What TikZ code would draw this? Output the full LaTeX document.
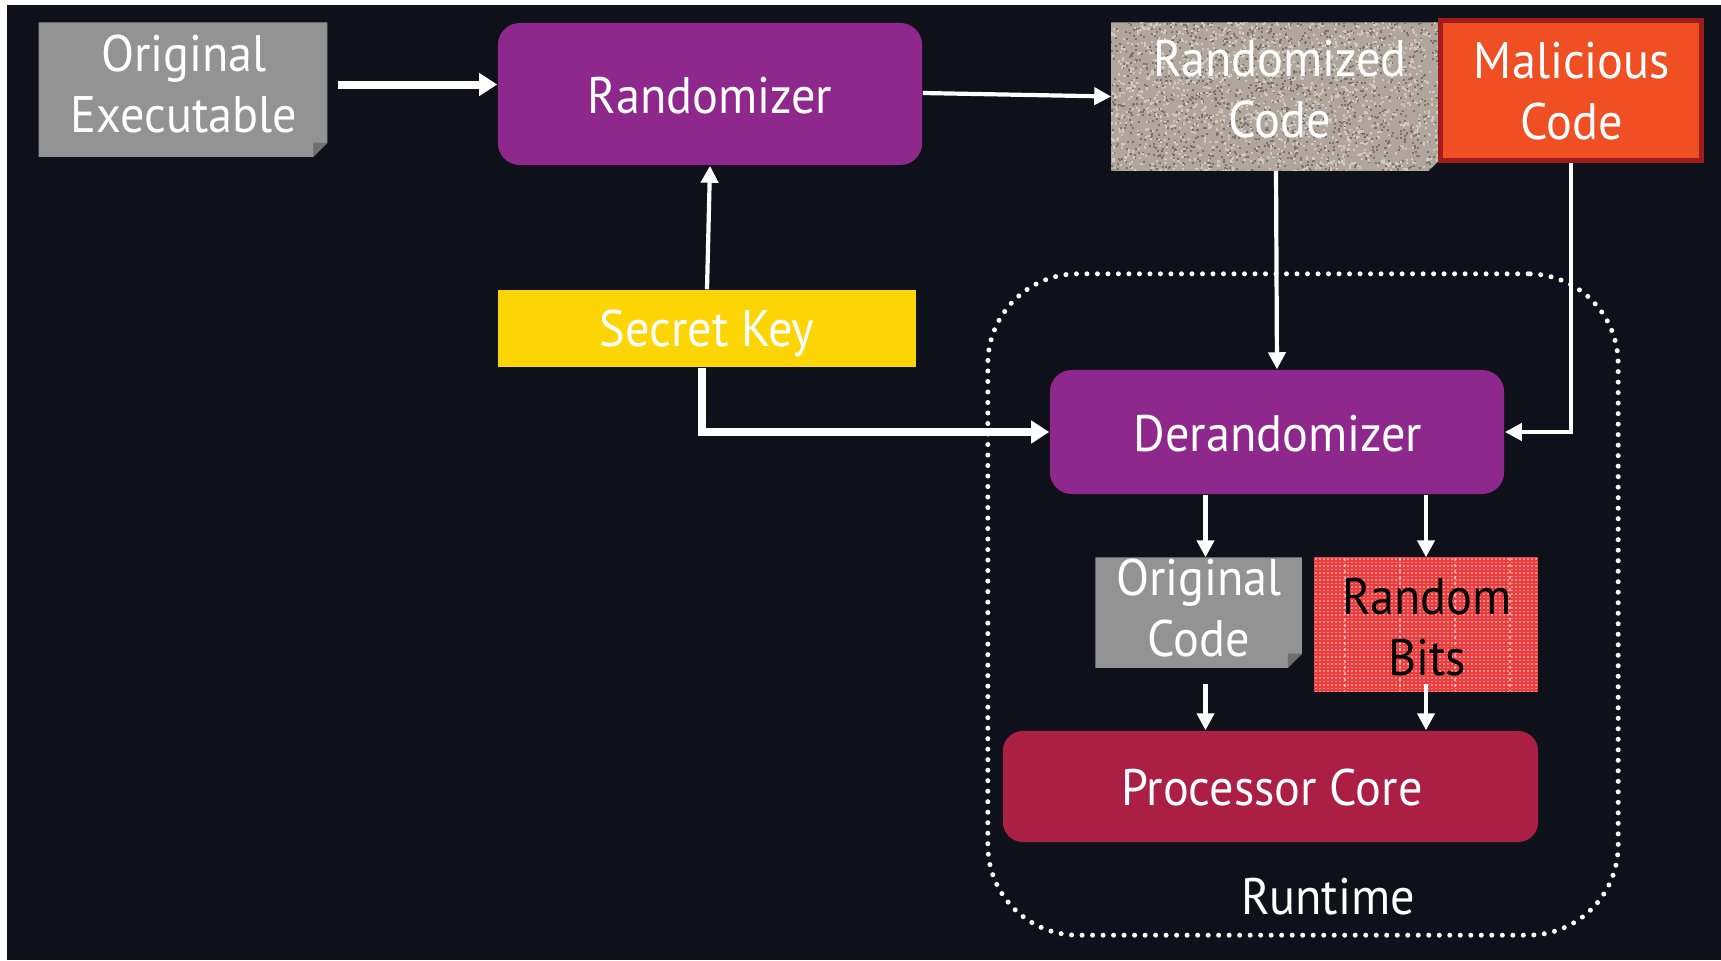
\documentclass[tikz,border=0pt]{standalone}
\usepackage{fontspec}
\setmainfont{PT Sans}[FakeStretch=0.94]
\usetikzlibrary{arrows.meta,backgrounds}

\definecolor{bg}{HTML}{0E111A}
\definecolor{purp}{HTML}{8F288C}
\definecolor{crimson}{HTML}{AB1F45}
\definecolor{keyyellow}{HTML}{FDD504}
\definecolor{malfill}{HTML}{F04E23}
\definecolor{malborder}{HTML}{A01D1D}
\definecolor{docgray}{HTML}{939393}
\definecolor{docfold}{HTML}{6E6E6E}
\definecolor{rcbase}{HTML}{B0A69B}
\definecolor{rcdark}{HTML}{7E7368}
\definecolor{rclight}{HTML}{D2CAC0}
\definecolor{rbred}{HTML}{EF3B3B}

\tikzset{
  lbl/.style={text=white, font=\fontsize{14.6}{17.2}\selectfont, align=center, inner sep=0pt},
  box/.style={inner sep=0pt},
  proc/.style={box, fill=purp, rounded corners=0.22cm},
  thickarr/.style={draw=white, line width=0.08cm, -{Triangle[length=0.18cm,width=0.22cm]}},
  thinarr/.style={draw=white, line width=0.042cm, -{Triangle[length=0.17cm,width=0.17cm]}},
  dotframe/.style={draw=white, line width=0.05cm, line cap=round, dash pattern=on 0pt off 0.105cm, rounded corners=0.9cm}
}

\begin{document}
\begin{tikzpicture}[x=0.01cm, y=-0.01cm]
\useasboundingbox (0,0) rectangle (1721,960);
\begin{scope}[on background layer]
  \fill[white] (0,0) rectangle (1721,960);
  \fill[bg] (7,5) rectangle (1721,960);
\end{scope}

% runtime region
\node[dotframe, minimum width=6.30cm, minimum height=6.61cm] (rt) at (1303,604.5) {};
\node[lbl] (rtlabel) at (1328,897) {Runtime};

% top row
\node[box, minimum width=2.87cm, minimum height=1.33cm] (orig) at (183,89.5) {};
\node[lbl] (origtext) at (184,84) {Original\\Executable};
\node[proc, minimum width=4.24cm, minimum height=1.42cm] (rand) at (710,94) {};
\node[lbl] (randtext) at (710,96) {Randomizer};
\node[box, minimum width=3.28cm, minimum height=1.47cm] (rc) at (1276,96.5) {};
\node[lbl] (rctext) at (1280,89) {Randomized\\Code};
\node[box, fill=malfill, draw=malborder, line width=0.05cm, minimum width=2.60cm, minimum height=1.39cm] (mal) at (1571,90.5) {};
\node[lbl] (maltext) at (1572,91) {Malicious\\Code};

% key
\node[box, fill=keyyellow, minimum width=4.18cm, minimum height=0.77cm] (sk) at (707,328.5) {};
\node[lbl] (sktext) at (707,333) {Secret Key};

% runtime contents
\node[proc, minimum width=4.54cm, minimum height=1.24cm] (der) at (1277,432) {};
\node[lbl] (dertext) at (1278,434) {Derandomizer};
\node[box, minimum width=2.05cm, minimum height=1.09cm] (oc) at (1198.5,612.5) {};
\node[lbl] (octext) at (1199,608) {Original\\Code};
\node[box, minimum width=2.22cm, minimum height=1.33cm] (rb) at (1426,624.5) {};
\node[lbl, text=black] (rbtext) at (1427,627) {Random\\Bits};
\node[box, fill=crimson, rounded corners=0.2cm, minimum width=5.35cm, minimum height=1.11cm] (pc) at (1270.5,786.5) {};
\node[lbl] (pctext) at (1272,788) {Processor Core};

% folded document backgrounds and textured fills
\begin{scope}[on background layer]
  \foreach \n in {orig,oc}{
    \fill[docgray] (\n.north west) -- (\n.north east) -- ([yshift=0.14cm]\n.south east)
      -- ([xshift=-0.14cm]\n.south east) -- (\n.south west) -- cycle;
    \fill[docfold] ([yshift=0.14cm]\n.south east) -- ([xshift=-0.14cm]\n.south east)
      -- ([xshift=-0.14cm,yshift=0.14cm]\n.south east) -- cycle;
  }
  % speckled randomized code
  \begin{scope}
    \path[clip] (rc.north west) -- (rc.north east) -- ([yshift=0.12cm]rc.south east)
      -- ([xshift=-0.12cm]rc.south east) -- (rc.south west) -- cycle;
    \fill[rcbase] (rc.north west) rectangle (rc.south east);
    \pgfmathsetseed{7}
    \foreach \i in {1,...,1400}{
      \pgfmathsetmacro\rx{1110+330*rnd}
      \pgfmathsetmacro\ry{21+150*rnd}
      \fill[rcdark] (\rx,\ry) rectangle ++(2,2);
    }
    \foreach \i in {1,...,1400}{
      \pgfmathsetmacro\rx{1110+330*rnd}
      \pgfmathsetmacro\ry{21+150*rnd}
      \fill[rclight] (\rx,\ry) rectangle ++(2.2,2.2);
    }
  \end{scope}
  % woven random bits
  \fill[rbred] (rb.north west) rectangle (rb.south east);
  \begin{scope}
    \clip (rb.north west) rectangle (rb.south east);
    \foreach \yy in {559,562.5,...,692}{
      \draw[white, opacity=0.45, line width=0.012cm, dash pattern=on 0.02cm off 0.02cm] (1315,\yy) -- (1537,\yy);
    }
    \foreach \xx in {1345,1400,1455,1510}{
      \draw[white, opacity=0.5, line width=0.015cm, dash pattern=on 0.03cm off 0.03cm] (\xx,558) -- (\xx,691);
    }
  \end{scope}
\end{scope}

% connectors
\draw[thickarr] ([xshift=0.11cm,yshift=0.05cm]orig.east) -- ([yshift=0.05cm]orig.east -| rand.west);
\draw[thinarr] ([yshift=0.01cm]rand.east) -- (rc.west);
\draw[thinarr] (sk.north) -- (rand.south);
\draw[thickarr] ([xshift=-0.05cm]sk.south) |- (der.west);
\draw[thinarr] (rc.south) -- (der.north);
\draw[thinarr] (mal.south) |- (der.east);
\draw[thinarr] ([xshift=0.07cm]oc.north |- der.south) -- ([xshift=0.07cm]oc.north);
\draw[thinarr] (rb.north |- der.south) -- (rb.north);
\draw[thinarr] ([xshift=0.07cm,yshift=-0.16cm]oc.south) -- ([xshift=0.07cm]oc.south |- pc.north);
\draw[thinarr] ([yshift=0.08cm]rb.south) -- (rb.south |- pc.north);
\end{tikzpicture}
\end{document}
